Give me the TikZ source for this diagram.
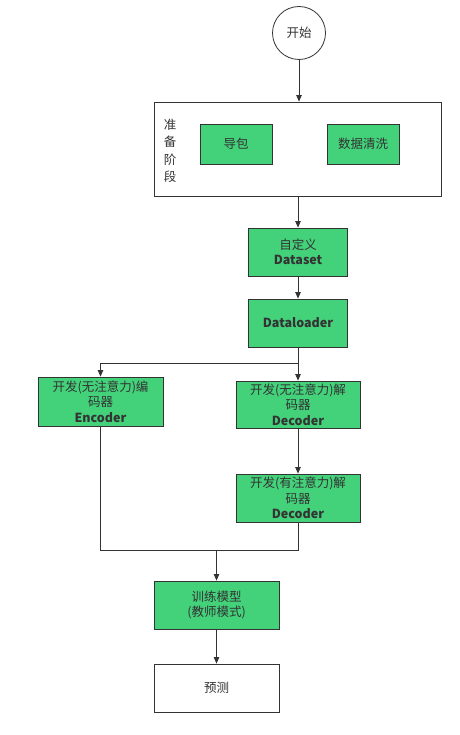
\documentclass[tikz,border=0pt]{standalone}
\usepackage{fontspec}
\setmainfont{Noto Sans CJK SC}
\usetikzlibrary{arrows.meta,calc}
\definecolor{boxgreen}{RGB}{67,209,122}
\definecolor{ink}{RGB}{51,51,51}
\begin{document}
\begin{tikzpicture}[x=1pt,y=-1pt,
  every node/.style={font=\fontsize{12.5}{15.5}\selectfont, text=ink, inner sep=0pt, align=center},
  gbox/.style={draw=ink, fill=boxgreen, line width=0.8pt, minimum width=#1, minimum height=48},
  gbox/.default=99,
  wbox/.style={draw=ink, fill=white, line width=0.8pt, minimum width=125, minimum height=48},
  conn/.style={draw=ink, line width=0.8pt},
  arr/.style={conn, -{Triangle[length=6.5pt,width=5.5pt]}}]
\useasboundingbox (0,0) rectangle (459,735);
\node[circle, draw=ink, line width=0.8pt, minimum size=53] (start) at (299,33) {开始};
\node[draw=ink, line width=0.8pt, minimum width=287, minimum height=94] (prep) at (297.5,149) {};
\node[font=\fontsize{12.5}{17.5}\selectfont] (preplabel) at (170,151) {准\\备\\阶\\段};
\node[gbox=72, minimum height=40] (daobao) at (236,144) {导包};
\node[gbox=72, minimum height=40] (clean) at (363,144) {数据清洗};
\node[gbox] (dataset) at (298,252) {自定义\\\textbf{Dataset}};
\node[gbox] (loader) at (298,323) {\textbf{Dataloader}};
\node[gbox=125, minimum height=49] (enc) at (100.5,401.5) {开发(无注意力)编\\码器\\\textbf{Encoder}};
\node[gbox=124, minimum height=47] (dec1) at (298,404.5) {开发(无注意力)解\\码器\\\textbf{Decoder}};
\node[gbox=124] (dec2) at (298,498) {开发(有注意力)解\\码器\\\textbf{Decoder}};
\node[gbox=125] (train) at (216.5,605) {训练模型\\(教师模式)};
\node[wbox] (pred) at (216.5,688) {预测};
\coordinate (split) at (298,363);
\coordinate (merge) at (216.5,550);
\draw[arr] (start) -- (prep.north -| start);
\draw[arr] (prep.south -| dataset) -- (dataset);
\draw[arr] (dataset) -- (loader);
\draw[conn] (loader) -- (split);
\draw[arr] (split) -- (dec1);
\draw[arr] (split) -| (enc);
\draw[arr] (dec1) -- (dec2);
\draw[conn] (enc.south) |- (merge);
\draw[conn] (dec2.south) |- (merge);
\draw[arr] (merge) -- (train);
\draw[arr] (train) -- (pred);
\end{tikzpicture}
\end{document}
